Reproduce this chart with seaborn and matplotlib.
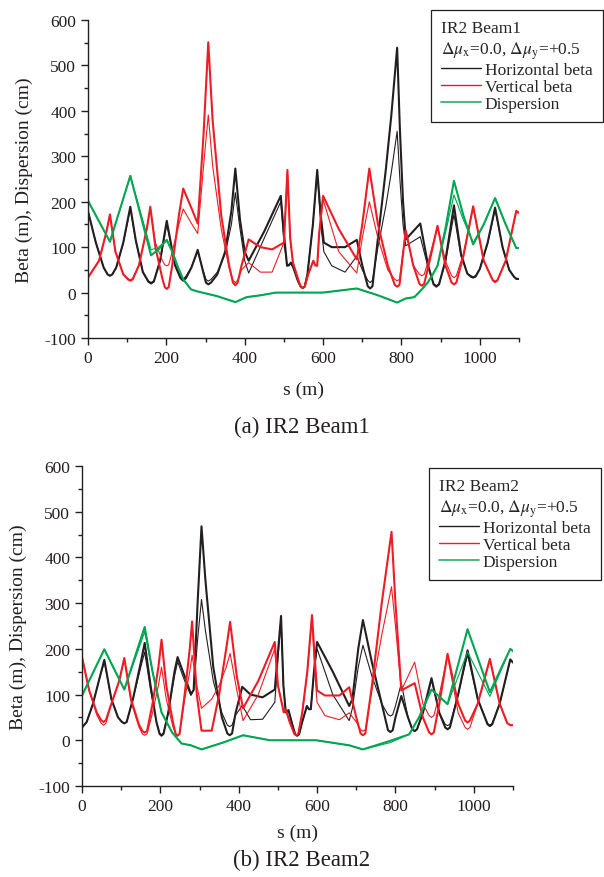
import matplotlib
matplotlib.use('Agg')
import matplotlib.pyplot as plt
from matplotlib.lines import Line2D
from matplotlib.ticker import MultipleLocator
import seaborn as sns

# ---- Beam1 ----
s_hx1 = [0, 20, 40, 50, 56, 62, 72, 90, 108, 122, 140, 154, 161, 168, 184, 201, 222, 236, 243, 250, 264, 280,
         294, 301, 307, 314, 330, 350, 366, 376, 388, 400, 410, 450, 492, 500, 508, 513, 518, 524, 536, 543,
         548, 553, 560, 574, 585, 594, 602, 622, 656, 686, 700, 714, 720, 726, 740, 760, 774, 789, 796, 804,
         811, 848, 868, 882, 889, 896, 912, 934, 952, 968, 977, 983, 989, 1000, 1020, 1039, 1058, 1075, 1087,
         1093, 1100]
hx1_thick = [179, 110, 55, 40, 37, 40, 55, 110, 189, 115, 45, 24, 20, 24, 70, 158, 60, 32, 26, 32, 55, 94,
             45, 22, 18, 22, 40, 90, 180, 273, 160, 90, 70, 135, 213, 130, 59, 60, 66, 55, 25, 13,
             10, 13, 40, 150, 270, 170, 110, 100, 100, 116, 60, 14, 9, 14, 120, 270, 389, 539, 360, 200,
             117, 152, 60, 18, 13, 18, 70, 192, 85, 42, 35, 33, 35, 52, 110, 187, 100, 50, 35,
             30, 30]
hx1_thin = [179, 110, 55, 40, 37, 40, 55, 108, 185, 113, 46, 26, 22, 26, 70, 150, 62, 36, 30, 36, 56, 90,
            48, 29, 25, 29, 45, 85, 150, 220, 140, 70, 43, 120, 200, 110, 62, 62, 64, 55, 25, 13,
            10, 13, 40, 150, 265, 150, 90, 59, 45, 80, 50, 27, 22, 27, 100, 190, 264, 355, 250, 150,
            103, 123, 55, 20, 15, 20, 65, 172, 80, 42, 37, 35, 37, 52, 108, 183, 100, 50, 35,
            31, 31]

s_vy1 = [0, 28, 46, 56, 70, 90, 102, 108, 114, 130, 150, 159, 172, 190, 196, 201, 206, 215, 232, 243,
         262, 280, 295, 307, 318, 340, 360, 370, 376, 382, 392, 410, 440, 470, 500, 509, 516, 523, 536, 543,
         548, 553, 562, 575, 580, 585, 590, 600, 640, 686, 700, 718, 740, 765, 783, 789, 795, 811, 830, 846,
         852, 858, 872, 892, 912, 928, 934, 940, 958, 983, 1010, 1033, 1039, 1045, 1066, 1093, 1100]
vy1_thick = [33, 70, 130, 172, 90, 40, 29, 26, 29, 60, 140, 189, 100, 30, 12, 8, 12, 60, 170, 229,
             190, 152, 350, 551, 380, 170, 60, 22, 16, 22, 60, 117, 100, 95, 110, 270, 120, 66, 30, 13,
             10, 13, 40, 70, 60, 59, 130, 213, 140, 73, 150, 273, 150, 60, 17, 13, 17, 137, 60, 19,
             15, 19, 70, 147, 60, 22, 18, 22, 80, 190, 70, 27, 23, 27, 70, 180, 175]
vy1_thin = [33, 70, 130, 170, 90, 40, 31, 28, 31, 60, 140, 185, 110, 70, 61, 59, 61, 90, 150, 184,
            155, 130, 280, 391, 280, 140, 55, 27, 22, 27, 50, 66, 45, 45, 110, 265, 120, 66, 30, 13,
            10, 13, 40, 70, 60, 59, 130, 205, 90, 43, 120, 200, 120, 50, 29, 26, 29, 137, 60, 40,
            37, 40, 80, 145, 70, 37, 33, 37, 85, 188, 70, 28, 25, 28, 70, 178, 175]

s_d1 = [0, 56, 108, 161, 180, 201, 215, 230, 243, 263, 277, 330, 376, 405, 440, 480, 600, 686, 740, 789, 811,
        833, 850, 867, 880, 892, 912, 934, 958, 983, 1010, 1039, 1066, 1093, 1100]
d1_thick = [202, 112, 257, 82, 95, 116, 90, 55, 29, 7, 3, -8, -21, -10, -6, 0, 0, 9, -6, -22, -13,
            -10, 5, 22, 40, 59, 140, 246, 170, 106, 150, 208, 150, 98, 98]
d1_thin = [202, 112, 257, 94, 100, 116, 90, 55, 29, 7, 3, -8, -21, -10, -6, 0, 0, 9, -6, -22, -13,
           -10, 5, 22, 40, 59, 130, 215, 160, 110, 150, 208, 150, 98, 98]

# ---- Beam2 ----
s_hx2 = [0, 12, 28, 46, 57, 75, 92, 102, 108, 114, 130, 150, 160, 175, 190, 198, 203, 208, 220, 236,
         244, 262, 278, 285, 295, 305, 315, 335, 357, 371, 377, 383, 392, 409, 430, 461, 492, 508, 514, 520,
         527, 535, 544, 549, 554, 562, 574, 579, 584, 592, 600, 640, 682, 690, 705, 717, 740, 765, 781, 787,
         793, 800, 815, 832, 843, 849, 855, 870, 892, 912, 927, 933, 939, 960, 984, 1010, 1035, 1041, 1047,
         1066, 1093, 1100]
hx2_thick = [28, 40, 80, 140, 176, 90, 50, 40, 37, 40, 90, 170, 213, 120, 40, 14, 10, 14, 60, 150,
             182, 140, 101, 110, 300, 468, 350, 160, 50, 15, 11, 15, 60, 117, 100, 94, 111, 272, 120, 61,
             66, 40, 13, 10, 13, 40, 75, 68, 68, 150, 215, 150, 75, 90, 200, 263, 170, 80, 22, 18,
             22, 50, 97, 50, 24, 20, 24, 60, 136, 60, 28, 24, 28, 100, 197, 90, 35, 31, 35,
             80, 177, 170]
hx2_thin = [28, 40, 80, 140, 172, 90, 50, 40, 37, 40, 90, 160, 193, 110, 40, 16, 12, 16, 60, 140,
            172, 130, 98, 110, 220, 308, 240, 130, 60, 33, 30, 33, 55, 76, 45, 46, 83, 268, 120, 61,
            66, 40, 13, 10, 13, 40, 75, 68, 68, 150, 200, 100, 43, 70, 160, 208, 140, 80, 56, 53,
            56, 75, 125, 50, 24, 20, 24, 60, 132, 60, 35, 32, 35, 100, 187, 90, 37, 33, 37,
            80, 175, 170]

s_vy2 = [0, 18, 38, 49, 55, 61, 75, 95, 108, 125, 145, 154, 160, 166, 180, 195, 203, 215, 232, 239,
         244, 249, 262, 275, 281, 293, 305, 331, 350, 368, 378, 395, 411, 450, 492, 500, 515, 520, 530, 542,
         547, 552, 562, 575, 587, 594, 600, 620, 657, 682, 700, 711, 717, 723, 740, 765, 790, 800, 815, 849,
         870, 886, 892, 898, 912, 933, 960, 978, 984, 990, 1010, 1041, 1066, 1085, 1093, 1100]
vy2_thick = [182, 110, 60, 44, 40, 44, 80, 130, 180, 90, 35, 20, 17, 20, 80, 160, 220, 120, 40, 14,
             10, 14, 100, 200, 260, 100, 21, 21, 100, 200, 259, 140, 70, 130, 215, 120, 61, 68, 40, 14,
             11, 14, 60, 150, 274, 180, 109, 98, 98, 116, 50, 15, 11, 15, 120, 300, 456, 300, 109, 125,
             50, 17, 13, 17, 80, 189, 80, 43, 39, 43, 80, 178, 80, 38, 33, 33]
vy2_thin = [182, 110, 55, 37, 33, 37, 80, 130, 178, 85, 30, 14, 11, 14, 60, 120, 160, 90, 30, 14,
            10, 14, 90, 150, 186, 120, 70, 90, 120, 160, 190, 110, 43, 100, 200, 120, 61, 68, 40, 14,
            11, 14, 60, 150, 270, 150, 83, 54, 45, 60, 40, 23, 20, 23, 110, 230, 336, 250, 109, 171,
            80, 54, 50, 54, 100, 185, 60, 28, 24, 28, 80, 176, 80, 38, 33, 33]

s_d2 = [0, 57, 108, 160, 180, 203, 230, 254, 278, 305, 360, 411, 480, 598, 682, 717, 787, 835, 860, 892, 933,
        984, 1041, 1093, 1100]
d2_thick = [98, 199, 111, 248, 150, 61, 17, -7, -11, -20, -5, 11, 0, 0, -11, -20, -1, 13, 50, 111, 79,
            243, 105, 200, 195]
d2_thin = [98, 199, 111, 237, 150, 61, 17, -7, -11, -20, -5, 11, 0, 0, -11, -20, -5, 13, 50, 111, 79,
           193, 96, 200, 195]

legend_labels = ['Horizontal beta', 'Vertical beta', 'Dispersion']
BLACK, RED, GREEN = '#231f20', '#ee1c25', '#00a651'

sns.set_style('ticks')
plt.rcParams['font.family'] = ['Liberation Serif', 'DejaVu Serif']
plt.rcParams['mathtext.fontset'] = 'stix'
plt.rcParams['axes.unicode_minus'] = False

fig = plt.figure(figsize=(6.04, 8.78), dpi=100)
W, H = 604, 878


def panel(rect, curves, title, caption, cap_y, leg_anchor, xpad):
    l, t, r, b = rect
    ax = fig.add_axes([l / W, 1 - b / H, (r - l) / W, (b - t) / H])
    for s, thick, thin, col in curves:
        sns.lineplot(x=s, y=thin, color=col, lw=0.8, sort=False, estimator=None, ax=ax)
        sns.lineplot(x=s, y=thick, color=col, lw=1.5, sort=False, estimator=None, ax=ax)
    ax.set_xlim(0, 1100)
    ax.set_ylim(-100, 600)
    ax.xaxis.set_major_locator(MultipleLocator(200))
    ax.xaxis.set_minor_locator(MultipleLocator(100))
    ax.yaxis.set_major_locator(MultipleLocator(100))
    ax.yaxis.set_minor_locator(MultipleLocator(50))
    ax.tick_params(which='major', direction='out', length=5, width=1, labelsize=12.5,
                   color='#231f20', labelcolor='#231f20')
    ax.tick_params(which='minor', direction='out', length=3, width=1, color='#231f20')
    for sp in ['left', 'bottom']:
        ax.spines[sp].set_linewidth(1)
        ax.spines[sp].set_color('#231f20')
    sns.despine(ax=ax)
    ax.set_xlabel('s (m)', fontsize=14, labelpad=xpad, color='#231f20')
    ax.set_ylabel('Beta (m), Dispersion (cm)', fontsize=14, labelpad=8.5, color='#231f20')
    handles = [Line2D([], [], color=BLACK, lw=1),
               Line2D([], [], color=RED, lw=1),
               Line2D([], [], color='#3cb371', lw=1.3)]
    leg = ax.legend(handles, legend_labels,
                    title=title + '\n' + r'$\Delta\mu_{\rm x}$=0.0, $\Delta\mu_{\rm y}$=+0.5',
                    loc='upper right', bbox_to_anchor=leg_anchor, bbox_transform=fig.transFigure,
                    fontsize=12.5, title_fontsize=12.5, alignment='left', frameon=True, fancybox=False,
                    framealpha=1, edgecolor='#231f20', handlelength=2.3, handletextpad=0.2,
                    labelspacing=0.05, borderpad=0.6, borderaxespad=0)
    leg.get_frame().set_linewidth(0.9)
    fig.text(0.5, 1 - cap_y / H, caption, ha='center', va='center', fontsize=16.5, color='#231f20')
    return ax


panel((88, 21, 519, 339),
      [(s_hx1, hx1_thick, hx1_thin, BLACK), (s_vy1, vy1_thick, vy1_thin, RED), (s_d1, d1_thick, d1_thin, GREEN)],
      'IR2 Beam1', '(a) IR2 Beam1', 427, (603 / W, 1 - 11 / H), 11)
panel((82, 467, 513, 787),
      [(s_hx2, hx2_thick, hx2_thin, BLACK), (s_vy2, vy2_thick, vy2_thin, RED), (s_d2, d2_thick, d2_thin, GREEN)],
      'IR2 Beam2', '(b) IR2 Beam2', 860, (601 / W, 1 - 469 / H), 7)

fig.savefig('out.png', dpi=100)
